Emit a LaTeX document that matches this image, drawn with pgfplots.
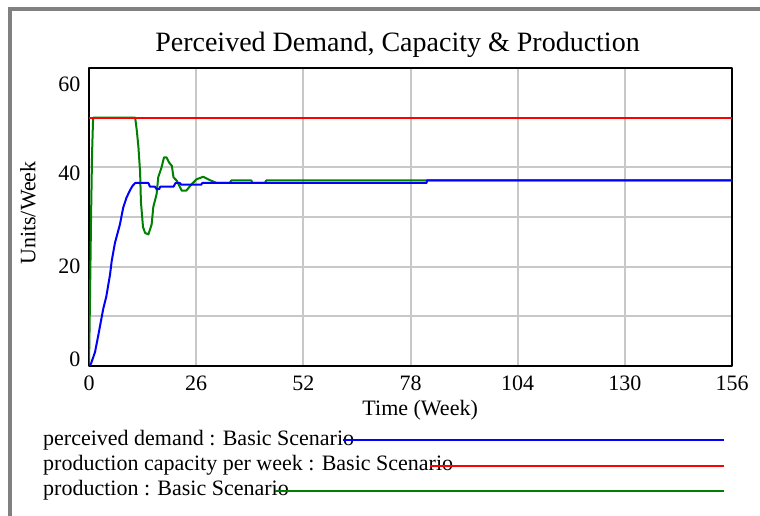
\documentclass[border=0pt]{standalone}
\usepackage{fontspec}
\setmainfont{Liberation Serif}
\usepackage{pgfplots}
\pgfplotsset{compat=1.18}
\definecolor{vblue}{RGB}{0,0,255}
\definecolor{vred}{RGB}{255,0,0}
\definecolor{vgreen}{RGB}{0,128,0}
\definecolor{vgrid}{RGB}{200,200,200}
\definecolor{vframe}{RGB}{128,128,128}
\newcommand{\lbl}{\fontsize{22}{26}\selectfont}
\begin{document}
\begin{tikzpicture}[x=1pt,y=1pt]
\useasboundingbox (0,0) rectangle (760,516);
\draw[vframe, line width=3.5pt] (10,0) -- (10,507) -- (760,507);
\node[anchor=base, font=\fontsize{28}{32}\selectfont] at (397.5,464) {Perceived Demand, Capacity \& Production};
\begin{axis}[
  scale only axis, width=643pt, height=298pt,
  at={(89pt,150pt)}, anchor=south west,
  xmin=0, xmax=156, ymin=0, ymax=60,
  xtick={0,26,...,156},
  ytick={10,20,30,40,50}, yticklabels={},
  extra y ticks={1.4,20,38.7,56.8},
  extra y tick labels={0,20,40,60},
  extra y tick style={grid=none},
  grid=major,
  grid style={vgrid, line width=2pt},
  axis line style={line width=2pt, black},
  tick style={draw=none},
  /pgf/number format/assume math mode=true,
  tick label style={font=\lbl},
  xticklabel style={yshift=-6pt},
  yticklabel style={xshift=-5pt},
  xlabel={Time (Week)},
  ylabel={Units/Week},
  every axis x label/.style={at={(axis description cs:0.515,-0.148)}, anchor=center, font=\lbl},
  every axis y label/.style={at={(axis description cs:-0.095,0.513)}, rotate=90, anchor=center, font=\lbl},
  clip=true,
  line join=round,
]
% production (green)
\addplot[vgreen, line width=2pt] coordinates {
(0,0) (0.25,14) (0.5,30) (0.75,43) (1,50) (11.2,50) (11.6,47.4) (12.0,44) (12.4,39) (12.6,33)
(13.1,28) (13.6,26.8) (14.4,26.5) (15.2,28.5) (15.6,32) (16.4,34.6) (16.8,38) (17.6,40)
(18.2,42) (18.8,42) (19.4,41) (20.1,40.3) (20.5,38) (21.3,37.3) (22.5,35.3) (23.6,35.3)
(24.9,36.6) (26.1,37.6) (27.7,38.1) (29.4,37.4) (31.0,36.85) (34.2,36.85) (34.5,37.35)
(39.4,37.35) (39.6,36.85) (42.7,36.85) (43,37.35) (156,37.35)
};
% production capacity per week (red)
\addplot[vred, line width=2pt] coordinates {(0,50) (156,50)};
% perceived demand (blue)
\addplot[vblue, line width=2pt] coordinates {
(0,0) (0.5,0.5) (1.46,2.8) (2.26,6.2) (3.0,9.5) (3.48,11.6) (4.2,14) (5.1,18.4) (5.5,21.1)
(6.3,24.8) (7.5,28.5) (8.3,31.9) (9.1,33.9) (9.9,35.3) (10.5,36.2) (11.2,36.85) (14.4,36.85)
(14.8,36.1) (16.0,36.1) (16.4,35.6) (17.0,35.6) (17.3,36.1) (20.5,36.1) (21.0,36.85) (22.0,36.85)
(22.4,36.5) (27.2,36.5) (27.5,36.85) (81.9,36.85) (82,37.35) (156,37.35)
};
\end{axis}
% legend
\node[anchor=base west, font=\lbl, inner sep=0pt] at (43,70) {perceived demand : Basic Scenario};
\node[anchor=base west, font=\lbl, inner sep=0pt] at (43,45) {production capacity per week : Basic Scenario};
\node[anchor=base west, font=\lbl, inner sep=0pt] at (43,20) {production : Basic Scenario};
\draw[vblue, line width=2pt] (343,76) -- (724,76);
\draw[vred, line width=2pt] (430,50) -- (724,50);
\draw[vgreen, line width=2pt] (275,25.3) -- (724,25.3);
\end{tikzpicture}
\end{document}
